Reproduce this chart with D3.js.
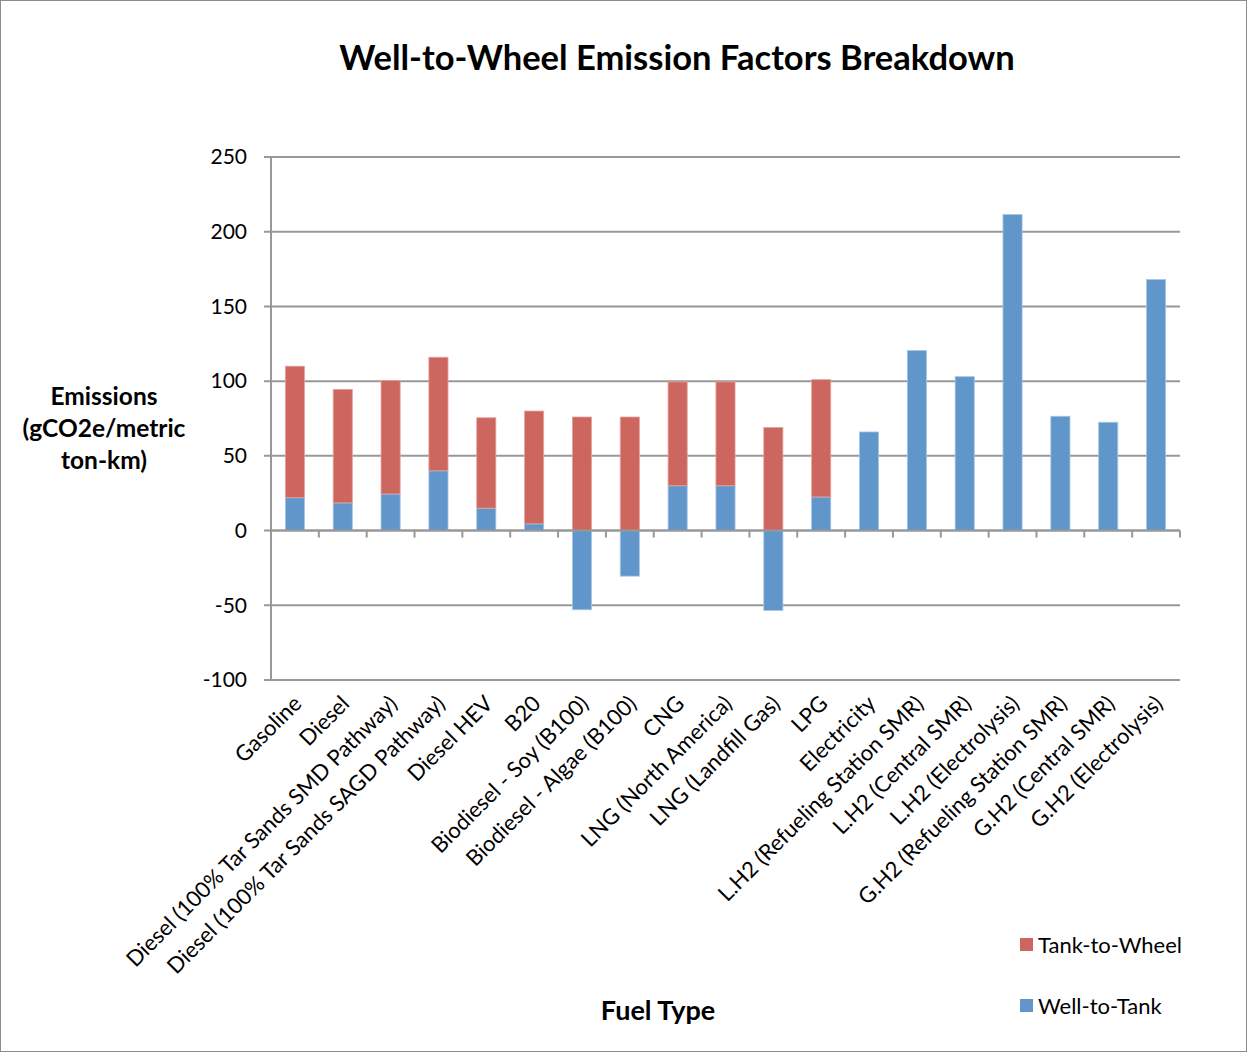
<!DOCTYPE html>
<html><head><meta charset="utf-8">
<script src="https://cdn.jsdelivr.net/npm/d3@7"></script>
<style>body{margin:0;background:#fff}svg{display:block}text{font-family:Lato,"Open Sans",sans-serif;fill:#000}</style>
</head><body><svg id="c" width="1247" height="1052"></svg>
<script>
const categories = ["Gasoline","Diesel","Diesel (100% Tar Sands SMD Pathway)","Diesel (100% Tar Sands SAGD Pathway)","Diesel HEV","B20","Biodiesel - Soy (B100)","Biodiesel - Algae (B100)","CNG","LNG (North America)","LNG (Landfill Gas)","LPG","Electricity","L.H2 (Refueling Station SMR)","L.H2 (Central SMR)","L.H2 (Electrolysis)","G.H2 (Refueling Station SMR)","G.H2 (Central SMR)","G.H2 (Electrolysis)"];
const wellToTank = [22,18.5,24.5,40,15,4.5,-53,-30.5,30,30,-53.5,22.5,66,120.5,103,211.5,76.5,72.5,168];
const tankToWheel = [88,76,76,76,60.5,75.5,76,76,69.5,69.5,69,78.5,0,0,0,0,0,0,0];
const yTicks = [-100,-50,0,50,100,150,200,250];
const seriesNames = ["Tank-to-Wheel","Well-to-Tank"];
const colors = {"Well-to-Tank":"#6096CA","Tank-to-Wheel":"#CD665E"};

const svg = d3.select("#c");
svg.append("rect").attr("x",0.5).attr("y",0.5).attr("width",1246).attr("height",1051).attr("fill","none").attr("stroke","#8c8c8c");

const L=271, R=1180, T=157, B=680;
const x = d3.scaleBand().domain(categories).range([L,R]).paddingInner(0.6).paddingOuter(0.3);
const xb = d3.scaleBand().domain(categories).range([L,R]);
const y = d3.scaleLinear().domain([-100,250]).range([B,T]);

svg.append("g").selectAll("line").data(yTicks).join("line")
  .attr("x1",L-7).attr("x2",R).attr("y1",d=>y(d)).attr("y2",d=>y(d))
  .attr("stroke","#989898").attr("stroke-width",2);
svg.append("g").selectAll("text").data(yTicks).join("text")
  .attr("x",247).attr("y",d=>y(d)).attr("dy","0.35em").attr("text-anchor","end")
  .style("font-size","21px").text(d=>d);
svg.append("line").attr("x1",L).attr("x2",L).attr("y1",T).attr("y2",B).attr("stroke","#989898").attr("stroke-width",2);

const stackData = categories.map((c,i)=>({cat:c,wtt:wellToTank[i],ttw:tankToWheel[i]}));
const rects=[];
stackData.forEach(d=>{
  let pos=0, neg=0;
  [["Well-to-Tank",d.wtt],["Tank-to-Wheel",d.ttw]].forEach(([s,v])=>{
    if(v===0) return;
    let y0,y1;
    if(v>0){y0=pos;y1=pos+v;pos=y1;} else {y0=neg;y1=neg+v;neg=y1;}
    rects.push({cat:d.cat,s,y0,y1});
  });
});
svg.append("g").selectAll("rect").data(rects).join("rect")
  .attr("x",d=>x(d.cat)).attr("width",x.bandwidth())
  .attr("y",d=>y(Math.max(d.y0,d.y1))).attr("height",d=>Math.abs(y(d.y0)-y(d.y1)))
  .attr("fill",d=>colors[d.s]).attr("stroke",d=>d.s==="Well-to-Tank"?"#a9c6e6":"#e3a49e").attr("stroke-width",0.8);

svg.append("line").attr("x1",L).attr("x2",R).attr("y1",y(0)).attr("y2",y(0)).attr("stroke","#989898").attr("stroke-width",2);
const bounds = categories.map(c=>xb(c)).concat([R]);
svg.append("g").selectAll("line").data(bounds).join("line")
  .attr("x1",d=>d).attr("x2",d=>d).attr("y1",y(0)).attr("y2",y(0)+7)
  .attr("stroke","#989898").attr("stroke-width",2);

svg.append("g").selectAll("text").data(categories).join("text")
  .attr("text-anchor","end")
  .attr("transform",d=>`translate(${xb(d)+xb.bandwidth()/2+8},${705}) rotate(-45)`)
  .style("font-size","22px").text(d=>d);

svg.append("text").attr("x",677).attr("y",70).attr("text-anchor","middle")
  .style("font-size","34.5px").style("font-weight","bold").text("Well-to-Wheel Emission Factors Breakdown");
const yt = ["Emissions","(gCO2e/metric","ton-km)"];
svg.append("g").selectAll("text").data(yt).join("text")
  .attr("x",104).attr("y",(d,i)=>405+i*32).attr("text-anchor","middle")
  .style("font-size","24.5px").style("font-weight","bold").text(d=>d);
svg.append("text").attr("x",658).attr("y",1020).attr("text-anchor","middle")
  .style("font-size","27px").style("font-weight","bold").text("Fuel Type");

const lg = svg.append("g").selectAll("g").data(seriesNames).join("g")
  .attr("transform",(d,i)=>`translate(1020,${938+i*61})`);
lg.append("rect").attr("width",13).attr("height",13).attr("fill",d=>colors[d]);
lg.append("text").attr("x",18).attr("y",7).attr("dy","0.35em").style("font-size","22px").text(d=>d);
</script></body></html>
